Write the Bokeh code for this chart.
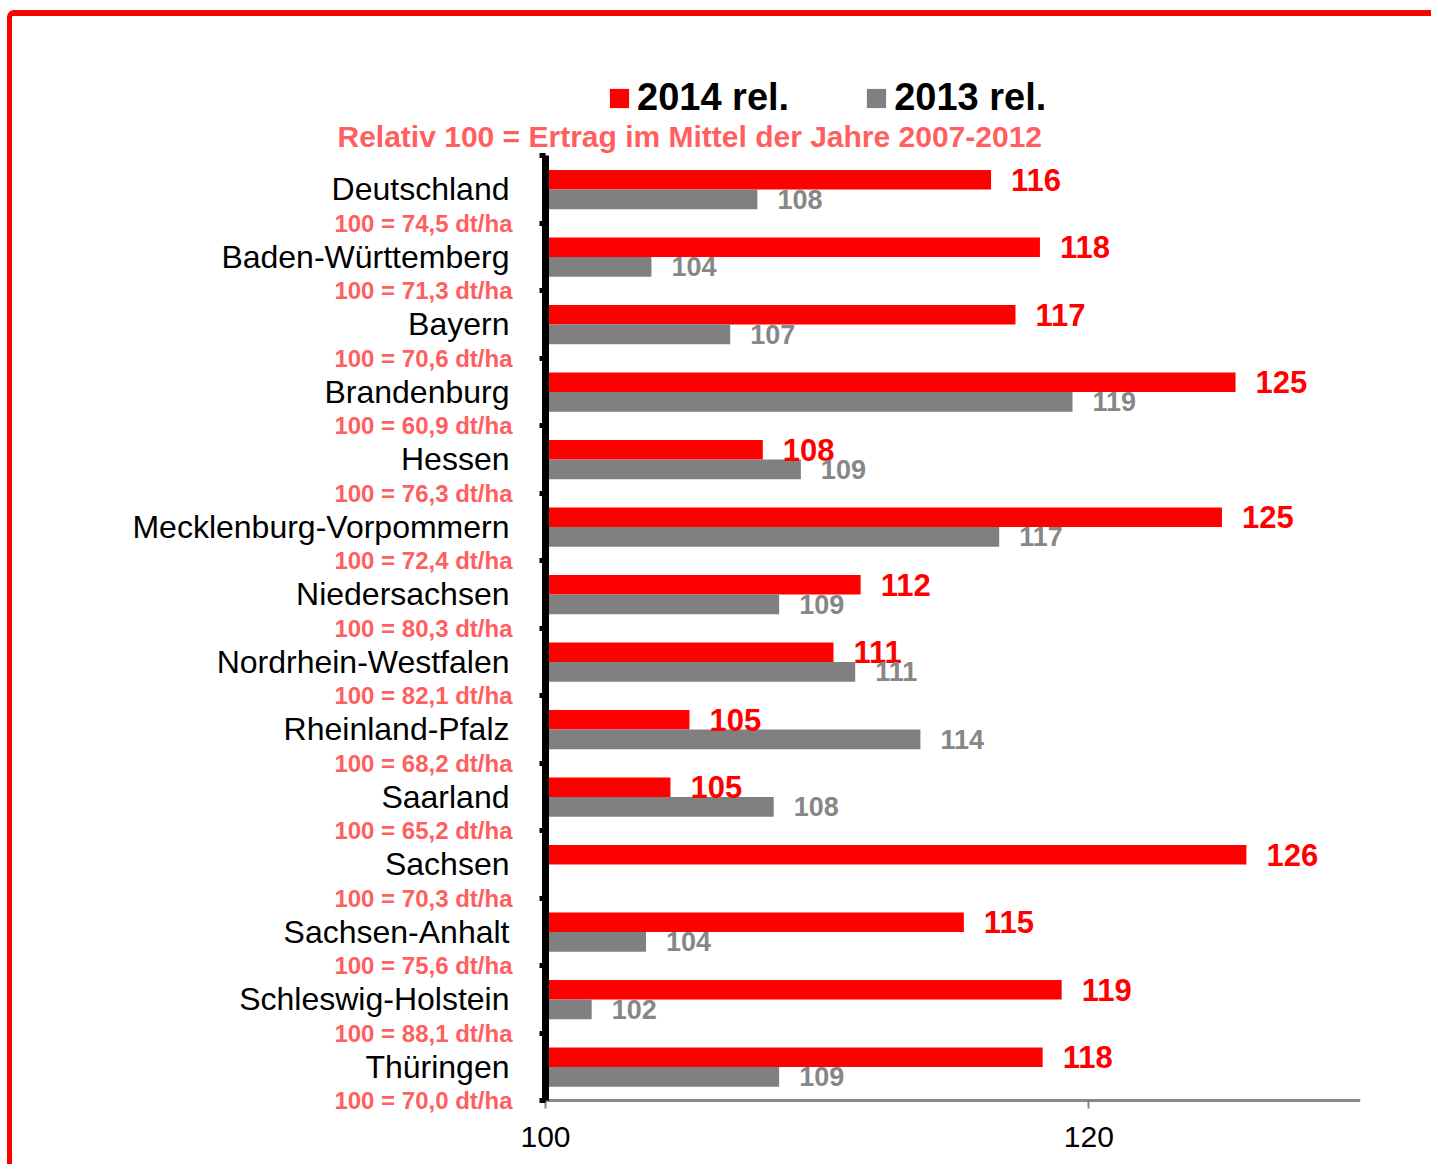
from bokeh.plotting import figure
from bokeh.models import ColumnDataSource, FixedTicker, Legend, LegendItem, LabelSet, Label
from bokeh.transform import dodge
from bokeh.embed import file_html
from bokeh.resources import INLINE
from bokeh.core.properties import value

# ---------------- data ----------------
laender = ["Deutschland", "Baden-Württemberg", "Bayern", "Brandenburg", "Hessen",
           "Mecklenburg-Vorpommern", "Niedersachsen", "Nordrhein-Westfalen",
           "Rheinland-Pfalz", "Saarland", "Sachsen", "Sachsen-Anhalt",
           "Schleswig-Holstein", "Thüringen"]
basis_dt_ha = ["74,5", "71,3", "70,6", "60,9", "76,3", "72,4", "80,3", "82,1",
               "68,2", "65,2", "70,3", "75,6", "88,1", "70,0"]
rel_2014 = [116.4, 118.2, 117.3, 125.4, 108.0, 124.9, 111.6, 110.6, 105.3, 104.6,
            125.8, 115.4, 119.0, 118.3]
rel_2013 = [107.8, 103.9, 106.8, 119.4, 109.4, 116.7, 108.6, 111.4, 113.8, 108.4,
            None, 103.7, 101.7, 108.6]
x_ticks = [100, 120]
x_min, x_max = 100, 130
series_names = ["2014 rel.", "2013 rel."]
subtitle = "Relativ 100 = Ertrag im Mittel der Jahre 2007-2012"

RED = "#ff0000"
GRAY = "#808080"
GRAY_TXT = "#878787"
SALMON = "#ff5f5f"
FONT = "Liberation Sans"

n = len(laender)
pos = [n - 1 - i for i in range(n)]

# ---------------- geometry (pixels) ----------------
W, H = 1424, 1154
ORIGIN_X, ORIGIN_Y = 12, 16          # canvas position on the page (after CSS border)
B_LEFT, B_TOP, B_RIGHT, B_BOTTOM = 30, 24, 76, 4
frame_w = W - B_LEFT - B_RIGHT
frame_h = H - B_TOP - B_BOTTOM
axis_px = 815          # pixel length of the value axis (100..130)
cat_px = 67.5          # pixel height of one category band
axis_bottom_page = 1100
frame_bottom_page = ORIGIN_Y + H - B_BOTTOM
px_per_x = axis_px / (x_max - x_min)
x_start = x_max - frame_w / px_per_x
y_start = -0.5 - (frame_bottom_page - axis_bottom_page) / cat_px
y_end = y_start + frame_h / cat_px

src = ColumnDataSource(dict(
    pos=pos,
    sub_pos=[p_ - 0.5 for p_ in pos],
    name=laender,
    sub=["100 = %s dt/ha" % b for b in basis_dt_ha],
    v14=rel_2014,
    v13=[float("nan") if v is None else v for v in rel_2013],
    base=[x_min] * n,
    t14=["%d" % round(v) for v in rel_2014],
))
src13 = ColumnDataSource(dict(
    pos=[p_ for p_, v in zip(pos, rel_2013) if v is not None],
    v13=[v for v in rel_2013 if v is not None],
    t13=["%d" % round(v) for v in rel_2013 if v is not None],
))

p = figure(width=W, height=H, x_range=(x_start, x_max), y_range=(y_start, y_end),
           output_backend="svg", toolbar_location=None,
           min_border_left=B_LEFT, min_border_right=B_RIGHT, min_border_top=B_TOP,
           min_border_bottom=B_BOTTOM)
p.styles = {"border-top": "6px solid #ff0000", "border-left": "5px solid #ff0000",
            "border-top-left-radius": "7px", "margin-top": "10px", "margin-left": "7px"}

p.xgrid.visible = False
p.ygrid.visible = False
p.outline_line_color = None

r14 = p.hbar(y=dodge("pos", 0.14), left="base", right="v14", height=0.29,
             fill_color=RED, line_color=None, source=src)
r13 = p.hbar(y=dodge("pos", -0.15), left="base", right="v13", height=0.29,
             fill_color=GRAY, line_color=None, source=src)

p.text(x="v14", y=dodge("pos", 0.14), text="t14", x_offset=20,
       text_baseline="middle", text_align="left", text_color=RED,
       text_font=value(FONT), text_font_style="bold", text_font_size="31px",
       source=src)
p.text(x="v13", y=dodge("pos", -0.15), text="t13", x_offset=20,
       text_baseline="middle", text_align="left", text_color=GRAY_TXT,
       text_font=value(FONT), text_font_style="bold", text_font_size="27px",
       source=src13)

# category labels (two lines)
p.add_layout(LabelSet(x="base", y="pos", text="name", source=src, x_offset=-36,
                      text_align="right", text_baseline="middle",
                      text_font=value(FONT), text_font_size="32px", text_color="black"))
p.add_layout(LabelSet(x="base", y="sub_pos", text="sub", source=src, x_offset=-33,
                      text_align="right", text_baseline="middle",
                      text_font=value(FONT), text_font_style="bold",
                      text_font_size="24px", text_color=SALMON))

# subtitle
p.add_layout(Label(x=x_min, y=n - 0.5, x_offset=-208, y_offset=19, text=subtitle,
                   text_align="left", text_baseline="middle",
                   text_font=FONT, text_font_style="bold",
                   text_font_size="30px", text_color=SALMON))

# axes
p.yaxis.fixed_location = x_min
p.yaxis.bounds = (-0.5, n - 0.5)
p.yaxis.ticker = FixedTicker(ticks=[k - 0.5 for k in range(n + 1)])
p.yaxis.major_label_overrides = {k - 0.5: "" for k in range(n + 1)}
p.yaxis.axis_line_width = 7
p.yaxis.axis_line_color = "black"
p.yaxis.major_tick_line_width = 5
p.yaxis.major_tick_out = 6
p.yaxis.major_tick_in = 0
p.yaxis.minor_tick_line_color = None

p.xaxis.fixed_location = -0.5
p.xaxis.bounds = (x_min, x_max)
p.xaxis.ticker = FixedTicker(ticks=x_ticks)
p.xaxis.axis_line_color = "#888888"
p.xaxis.axis_line_width = 3
p.xaxis.major_tick_line_color = "#888888"
p.xaxis.major_tick_line_width = 2
p.xaxis.major_tick_out = 8
p.xaxis.major_tick_in = 0
p.xaxis.minor_tick_line_color = None
p.xaxis.major_label_text_font = FONT
p.xaxis.major_label_text_font_size = "30px"
p.xaxis.major_label_text_color = "black"
p.xaxis.major_label_standoff = 18

frame_left_page = ORIGIN_X + B_LEFT
legend = Legend(items=[LegendItem(label=series_names[0], renderers=[r14]),
                       LegendItem(label=series_names[1], renderers=[r13])],
                location=(607 - frame_left_page, frame_bottom_page - 119),
                orientation="horizontal",
                glyph_width=24, glyph_height=24, label_standoff=6, spacing=75,
                padding=0, margin=0, border_line_color=None,
                background_fill_alpha=0,
                label_text_font=FONT, label_text_font_style="bold",
                label_text_font_size="38px", label_text_color="black")
p.add_layout(legend)

open("out.html", "w").write(file_html(p, INLINE))
